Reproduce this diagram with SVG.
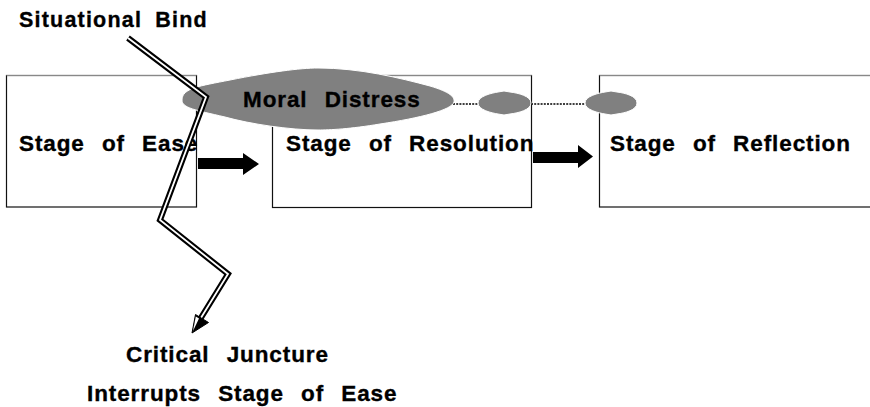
<svg xmlns="http://www.w3.org/2000/svg" width="870" height="407" viewBox="0 0 870 407">
<style>
.t{font-family:"Liberation Sans",Arial,sans-serif;font-weight:bold;font-size:22.5px;fill:#000;stroke:#000;stroke-width:0.35;letter-spacing:0.9px;word-spacing:10px}
.box{fill:#fff;stroke:#111;stroke-width:1.2}
.top{stroke:#888;stroke-width:1.2}
.blob{fill:#808080;stroke:#fff;stroke-width:1}
.dot{stroke:#000;stroke-width:1.6;stroke-dasharray:2 1.2;fill:none}
.blk{fill:#000}
</style>
<rect width="870" height="407" fill="#fff"/>
<g id="stage-ease">
<rect class="box" x="6.5" y="75.5" width="190" height="131.5"/>
<line class="top" x1="6.5" y1="75.5" x2="196.5" y2="75.5"/>
<text class="t" x="19" y="151">Stage of Ease</text>
</g>
<g id="stage-resolution">
<rect class="box" x="272.5" y="75.5" width="259" height="132"/>
<line class="top" x1="272.5" y1="75.5" x2="531.5" y2="75.5"/>
<text class="t" x="286" y="151">Stage of Resolution</text>
</g>
<g id="stage-reflection">
<rect class="box" x="599.5" y="75.5" width="280" height="131.5"/>
<line class="top" x1="599.5" y1="75.5" x2="872" y2="75.5"/>
<text class="t" x="610" y="151">Stage of Reflection</text>
</g>
<g id="connectors">
<path class="blk" d="M198,158 H243 V153 L259,164 L243,175 V169 H198 Z"/>
<path class="blk" d="M533,152 H578 V145 L593,156.5 L578,168 V163 H533 Z"/>
<line class="dot" x1="453" y1="104" x2="478" y2="104"/>
<line class="dot" x1="531" y1="104" x2="585" y2="104"/>
</g>
<g id="moral-distress">
<path class="blob" d="M182,100 C182,88 200,86 230,80 C270,72 300,68 318,68 C360,68 400,78 430,86 C450,92 455,97 454,102 C452,110 420,118 380,124 C350,129 330,130 318,130 C290,130 250,124 225,117 C195,110 182,108 182,100 Z"/>
<text class="t" x="243" y="107">Moral Distress</text>
</g>
<g id="blob-2">
<path class="blob" d="M478,103 C478,96 492,93 498,92 L504,91 L510,92 C518,93 531,96 531,103 C531,110 518,113 510,114 L504,115 L498,114 C492,113 478,110 478,103 Z"/>
</g>
<g id="blob-3">
<path class="blob" d="M585,103 C585,96 599,93 605,92 L611,91 L617,92 C625,93 637,96 637,103 C637,110 625,113 617,114 L611,115 L605,114 C599,113 585,110 585,103 Z"/>
</g>
<g id="situational-bind">
<text class="t" x="19" y="27" style="font-size:21.5px;letter-spacing:1.2px;word-spacing:6px">Situational Bind</text>
</g>
<g id="critical-juncture">
<text class="t" x="126" y="362">Critical Juncture</text>
<text class="t" x="87" y="401">Interrupts Stage of Ease</text>
</g>
<g id="bind-arrow">
<polyline points="128,38 206,97 160,220 228,274 199,321" fill="none" stroke="#000" stroke-width="6" stroke-linejoin="miter"/>
<polyline points="128,38 206,97 160,220 228,274 199,321" fill="none" stroke="#fff" stroke-width="1.8" stroke-linejoin="miter"/>
<path d="M192,333 L195.5,314.5 L208.5,322.5 Z" fill="#000" stroke="#000" stroke-width="1"/>
<path d="M193,331 L195.8,316.5 L199,318.5 Z" fill="#fff"/>
</g>
</svg>
